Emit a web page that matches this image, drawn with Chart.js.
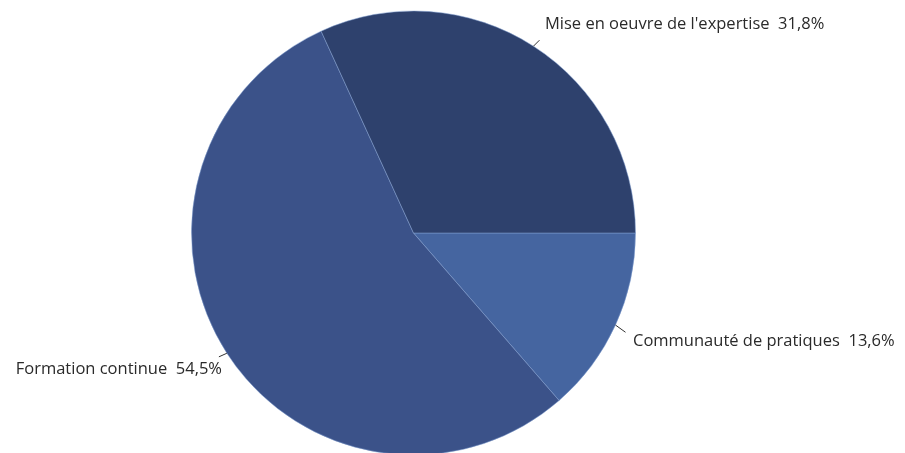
<!DOCTYPE html>
<html><head><meta charset="utf-8">
<script src="https://cdn.jsdelivr.net/npm/chart.js@4/dist/chart.umd.min.js"></script>
<style>html,body{margin:0;padding:0;background:#fff}#c{display:block}</style>
</head><body>
<canvas id="c" width="905" height="453"></canvas>
<script>
const categories = ["Communauté de pratiques", "Formation continue", "Mise en oeuvre de l'expertise"];
const values = [13.6, 54.5, 31.8];
const valueLabels = ["13,6%", "54,5%", "31,8%"];
const colors = ["#4565a0", "#3b5289", "#2e416d"];

const labelPlugin = {
  id: 'outLabels',
  afterDraw(chart) {
    const ctx = chart.ctx;
    const meta = chart.getDatasetMeta(0);
    ctx.save();
    ctx.font = '16.5px "Open Sans", sans-serif';
    ctx.fillStyle = '#2a2a2a';
    ctx.strokeStyle = '#333';
    ctx.lineWidth = 1;
    ctx.textBaseline = 'middle';
    const layout = [
      {dx: 10, dy: 12, tx: 633, ty: 341, align: 'left'},
      {dx: -8, dy: 6, tx: 222, ty: 369, align: 'right'},
      {dx: 6, dy: -10, tx: 545, ty: 24, align: 'left'}
    ];
    meta.data.forEach((arc, i) => {
      const mid = (arc.startAngle + arc.endAngle) / 2;
      const x0 = arc.x + Math.cos(mid) * arc.outerRadius;
      const y0 = arc.y + Math.sin(mid) * arc.outerRadius;
      const L = layout[i];
      ctx.beginPath();
      ctx.moveTo(x0, y0);
      ctx.lineTo(x0 + L.dx, y0 + L.dy * 0.6);
      ctx.stroke();
      ctx.textAlign = L.align;
      ctx.fillText(categories[i] + '  ' + valueLabels[i], L.tx, L.ty);
    });
    ctx.restore();
  }
};

new Chart(document.getElementById('c'), {
  type: 'pie',
  data: {
    labels: categories,
    datasets: [{
      data: values,
      backgroundColor: colors,
      borderColor: 'rgba(130,160,210,0.5)',
      borderWidth: 1
    }]
  },
  options: {
    responsive: false,
    animation: false,
    rotation: 90,
    radius: 222,
    layout: {padding: {left: 0, right: 78, top: 13, bottom: 0}},
    plugins: {legend: {display: false}, tooltip: {enabled: false}}
  },
  plugins: [labelPlugin]
});
</script>
</body></html>
